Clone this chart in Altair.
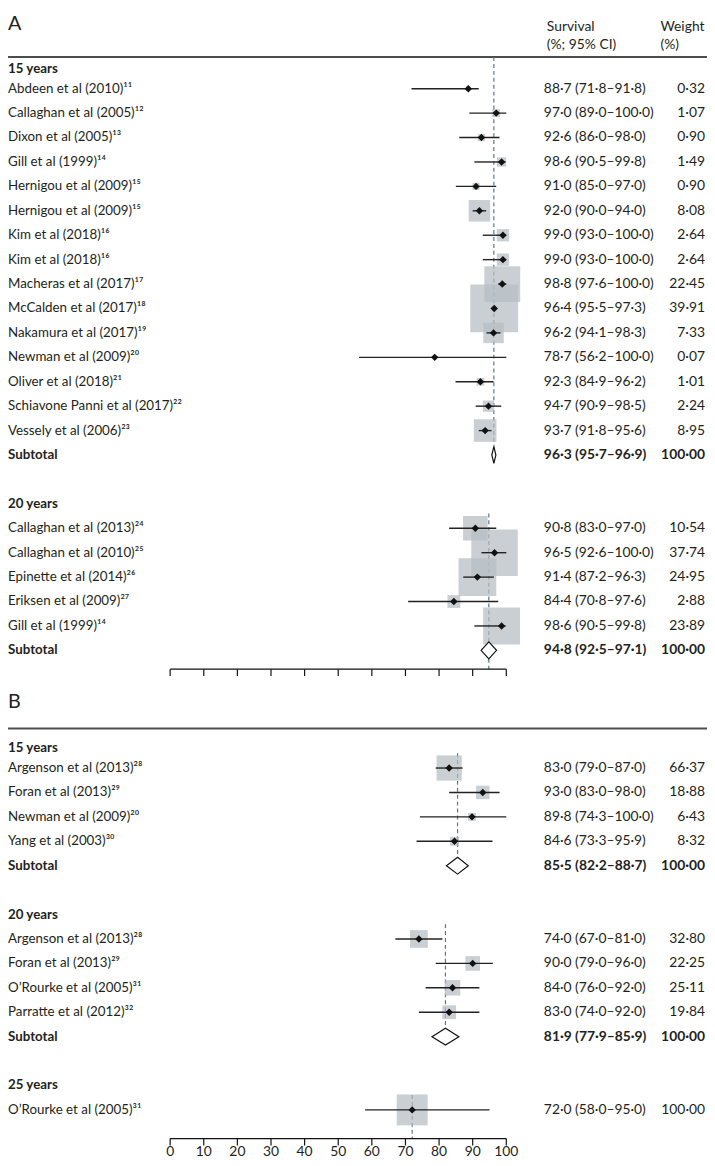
import altair as alt
import pandas as pd

# ---------------- data ----------------
a15_study = ["Abdeen et al (2010)¹¹", "Callaghan et al (2005)¹²", "Dixon et al (2005)¹³", "Gill et al (1999)¹⁴",
             "Hernigou et al (2009)¹⁵", "Hernigou et al (2009)¹⁵", "Kim et al (2018)¹⁶", "Kim et al (2018)¹⁶",
             "Macheras et al (2017)¹⁷", "McCalden et al (2017)¹⁸", "Nakamura et al (2017)¹⁹",
             "Newman et al (2009)²⁰", "Oliver et al (2018)²¹", "Schiavone Panni et al (2017)²²",
             "Vessely et al (2006)²³"]
a15_est = [88.7, 97.0, 92.6, 98.6, 91.0, 92.0, 99.0, 99.0, 98.8, 96.4, 96.2, 78.7, 92.3, 94.7, 93.7]
a15_lo = [71.8, 89.0, 86.0, 90.5, 85.0, 90.0, 93.0, 93.0, 97.6, 95.5, 94.1, 56.2, 84.9, 90.9, 91.8]
a15_hi = [91.8, 100.0, 98.0, 99.8, 97.0, 94.0, 100.0, 100.0, 100.0, 97.3, 98.3, 100.0, 96.2, 98.5, 95.6]
a15_wt = [0.32, 1.07, 0.90, 1.49, 0.90, 8.08, 2.64, 2.64, 22.45, 39.91, 7.33, 0.07, 1.01, 2.24, 8.95]
a15_sub = [96.3, 95.7, 96.9, 100.00]

a20_study = ["Callaghan et al (2013)²⁴", "Callaghan et al (2010)²⁵", "Epinette et al (2014)²⁶",
             "Eriksen et al (2009)²⁷", "Gill et al (1999)¹⁴"]
a20_est = [90.8, 96.5, 91.4, 84.4, 98.6]
a20_lo = [83.0, 92.6, 87.2, 70.8, 90.5]
a20_hi = [97.0, 100.0, 96.3, 97.6, 99.8]
a20_wt = [10.54, 37.74, 24.95, 2.88, 23.89]
a20_sub = [94.8, 92.5, 97.1, 100.00]

b15_study = ["Argenson et al (2013)²⁸", "Foran et al (2013)²⁹", "Newman et al (2009)²⁰", "Yang et al (2003)³⁰"]
b15_est = [83.0, 93.0, 89.8, 84.6]
b15_lo = [79.0, 83.0, 74.3, 73.3]
b15_hi = [87.0, 98.0, 100.0, 95.9]
b15_wt = [66.37, 18.88, 6.43, 8.32]
b15_sub = [85.5, 82.2, 88.7, 100.00]

b20_study = ["Argenson et al (2013)²⁸", "Foran et al (2013)²⁹", "O’Rourke et al (2005)³¹", "Parratte et al (2012)³²"]
b20_est = [74.0, 90.0, 84.0, 83.0]
b20_lo = [67.0, 79.0, 76.0, 74.0]
b20_hi = [81.0, 96.0, 92.0, 92.0]
b20_wt = [32.80, 22.25, 25.11, 19.84]
b20_sub = [81.9, 77.9, 85.9, 100.00]

b25_study = ["O’Rourke et al (2005)³¹"]
b25_est = [72.0]
b25_lo = [58.0]
b25_hi = [95.0]
b25_wt = [100.00]

tick_values = [0, 10, 20, 30, 40, 50, 60, 70, 80, 90, 100]
tick_labels = ["0", "10", "20", "30", "40", "50", "60", "70", "80", "90", "100"]

# ---------------- layout ----------------
W, H = 707, 1158
X0, X1 = 164, 504
STEP = 24.7
FONT = "Lato"
INK = "#231f20"


def fmt_ci(e, lo, hi):
    return f"{e:.1f} ({lo:.1f}–{hi:.1f})".replace(".", "·")


def fmt_w(w):
    return f"{w:.2f}".replace(".", "·")


studies, subs, heads, dashes = [], [], [], []


def build(panel, groups, base, first_dash_top=None):
    slot = 0
    last_y = None
    for gi, (name, labs, est, lo, hi, wt, sub) in enumerate(groups):
        if gi == 0:
            heads.append({"label": name, "y": base - 20})
        else:
            slot += 1
            heads.append({"label": name, "y": base + slot * STEP})
            slot += 1
        first_y = base + slot * STEP
        for l, e, a, b, w in zip(labs, est, lo, hi, wt):
            y = base + slot * STEP
            studies.append(dict(panel=panel, label=l, est=e, lo=a, hi=b, wt=w, y=y,
                                ci=fmt_ci(e, a, b), wtxt=fmt_w(w)))
            slot += 1
        last_y = base + (slot - 1) * STEP
        top = first_dash_top if (gi == 0 and first_dash_top is not None) else first_y - 15
        is_last = gi == len(groups) - 1
        if sub is not None:
            sy = base + slot * STEP
            subs.append(dict(panel=panel, key=f"{panel}{gi}", est=sub[0], lo=sub[1], hi=sub[2],
                             wt=sub[3], y=sy, ci=fmt_ci(sub[0], sub[1], sub[2]), wtxt=fmt_w(sub[3])))
            slot += 1
            last_y = sy
            dashes.append(dict(panel=panel, est=sub[0], y0=top, y1=sy, last=is_last))
        else:
            dashes.append(dict(panel=panel, est=est[0], y0=top, y1=None, last=is_last))
    return last_y


RULE_A = 43
A_BASE = 75
last_a = build("A", [("15 years", a15_study, a15_est, a15_lo, a15_hi, a15_wt, a15_sub),
                     ("20 years", a20_study, a20_est, a20_lo, a20_hi, a20_wt, a20_sub)],
               A_BASE, first_dash_top=RULE_A)
AXIS_A = last_a + 19
LABEL_B = AXIS_A + 33
RULE_B = AXIS_A + 60
B_BASE = AXIS_A + 100
last_b = build("B", [("15 years", b15_study, b15_est, b15_lo, b15_hi, b15_wt, b15_sub),
                     ("20 years", b20_study, b20_est, b20_lo, b20_hi, b20_wt, b20_sub),
                     ("25 years", b25_study, b25_est, b25_lo, b25_hi, b25_wt, None)],
               B_BASE)
AXIS_B = last_b + 29

for d in dashes:
    if d["last"]:
        d["y1"] = AXIS_A if d["panel"] == "A" else AXIS_B

df_st = pd.DataFrame(studies)
df_sub = pd.DataFrame(subs)
df_head = pd.DataFrame(heads)
df_dash = pd.DataFrame(dashes)
df_rules = pd.DataFrame({"y": [RULE_A, RULE_B]})

# diamonds for pooled estimates
diam = []
for s in subs:
    for xv, yt, yb in [(s["lo"], s["y"], s["y"]), (s["est"], s["y"] - 8.5, s["y"] + 8.5), (s["hi"], s["y"], s["y"])]:
        diam.append(dict(key=s["key"], x=xv, yt=yt, yb=yb))
df_diam = pd.DataFrame(diam)

# axes
df_axis = pd.DataFrame({"y": [AXIS_A, AXIS_B], "x0": [tick_values[0]] * 2, "x1": [tick_values[-1]] * 2})
df_ticks = pd.DataFrame([dict(t=t, y=ay, y2=ay + 7) for ay in (AXIS_A, AXIS_B) for t in tick_values])
df_tlab = pd.DataFrame({"t": tick_values, "lab": tick_labels, "y": [AXIS_B + 14] * len(tick_values)})

ys = alt.Scale(domain=[0, H], range=[0, H], nice=False, zero=False)
xs = alt.Scale(domain=[0, 100], range=[X0, X1], nice=False, zero=False)


def Y(f="y"):
    return alt.Y(f"{f}:Q", scale=ys, axis=None)


def X(f):
    return alt.X(f"{f}:Q", scale=xs, axis=None)


rules = alt.Chart(df_rules).mark_rule(color="#4d4d4d", strokeWidth=2).encode(
    x=alt.value(0), x2=alt.value(W), y=Y())

dash = alt.Chart(df_dash).mark_rule(color="#5f7384", strokeWidth=1.2, strokeDash=[4, 3]).encode(
    x=X("est"), y=Y("y0"), y2=alt.Y2("y1"))

squares = alt.Chart(df_st).transform_calculate(
    sq="datum.panel == 'A' ? 58.5 * datum.wt : 9.8 * datum.wt"
).mark_square(color="#b5bcc3", opacity=0.72).encode(
    x=X("est"), y=Y(), size=alt.Size("sq:Q", scale=None))

whisk = alt.Chart(df_st).mark_rule(color="#222222", strokeWidth=1.4).encode(
    x=X("lo"), x2=alt.X2("hi"), y=Y())

pts = alt.Chart(df_st).mark_point(shape="diamond", filled=True, color="#111111", size=56, opacity=1).encode(
    x=X("est"), y=Y())

diamonds = alt.Chart(df_diam).mark_area(fill="white", stroke="#111111", strokeWidth=1.2,
                                        opacity=1, orient="vertical").encode(
    x=X("x"), y=Y("yt"), y2=alt.Y2("yb"), detail="key:N")

axis_line = alt.Chart(df_axis).mark_rule(color="#111111", strokeWidth=1.2).encode(
    x=X("x0"), x2=alt.X2("x1"), y=Y())
axis_ticks = alt.Chart(df_ticks).mark_rule(color="#111111", strokeWidth=1.2).encode(
    x=X("t"), y=Y("y"), y2=alt.Y2("y2"))
axis_labels = alt.Chart(df_tlab).mark_text(font=FONT, fontSize=14, color=INK, baseline="middle",
                                           align="center").encode(x=X("t"), y=Y(), text="lab:N")

txt = dict(font=FONT, fontSize=13.5, color=INK, baseline="middle")
ntxt = dict(font=FONT, fontSize=14, color=INK, baseline="middle")
study_lab = alt.Chart(df_st).mark_text(align="left", **txt).encode(x=alt.value(0), y=Y(), text="label:N")
study_ci = alt.Chart(df_st).mark_text(align="left", **ntxt).encode(x=alt.value(542), y=Y(), text="ci:N")
study_w = alt.Chart(df_st).mark_text(align="right", **ntxt).encode(x=alt.value(705), y=Y(), text="wtxt:N")

btxt = dict(font=FONT, fontSize=13.5, color=INK, baseline="middle", fontWeight="bold")
bntxt = dict(font=FONT, fontSize=14, color=INK, baseline="middle", fontWeight="bold")
head_lab = alt.Chart(df_head).mark_text(align="left", **btxt).encode(x=alt.value(0), y=Y(), text="label:N")
sub_lab = alt.Chart(df_sub).mark_text(align="left", text="Subtotal", **btxt).encode(x=alt.value(0), y=Y())
sub_ci = alt.Chart(df_sub).mark_text(align="left", **bntxt).encode(x=alt.value(542), y=Y(), text="ci:N")
sub_w = alt.Chart(df_sub).mark_text(align="right", **bntxt).encode(x=alt.value(705), y=Y(), text="wtxt:N")

df_top = pd.DataFrame([
    {"t": "Survival", "x": 545, "y": 13},
    {"t": "(%; 95% CI)", "x": 545, "y": 31},
    {"t": "Weight", "x": 660, "y": 13},
    {"t": "(%)", "x": 660, "y": 31},
])
top_txt = alt.Chart(df_top).mark_text(align="left", **ntxt).encode(
    x=alt.X("x:Q", scale=None, axis=None), y=Y(), text="t:N")
df_panel = pd.DataFrame({"t": ["A", "B"], "y": [10, LABEL_B]})
panel_txt = alt.Chart(df_panel).mark_text(align="left", baseline="middle", font=FONT, fontSize=20,
                                          color=INK).encode(x=alt.value(0), y=Y(), text="t:N")

chart = alt.layer(
    rules, dash, squares, whisk, pts, diamonds, axis_line, axis_ticks, axis_labels,
    study_lab, study_ci, study_w, head_lab, sub_lab, sub_ci, sub_w, top_txt, panel_txt
).properties(
    width=W, height=H, autosize=alt.AutoSizeParams(type="none"), padding=0
).configure_view(stroke=None)

chart.save("out.html", embed_options={"renderer": "svg", "actions": False})
